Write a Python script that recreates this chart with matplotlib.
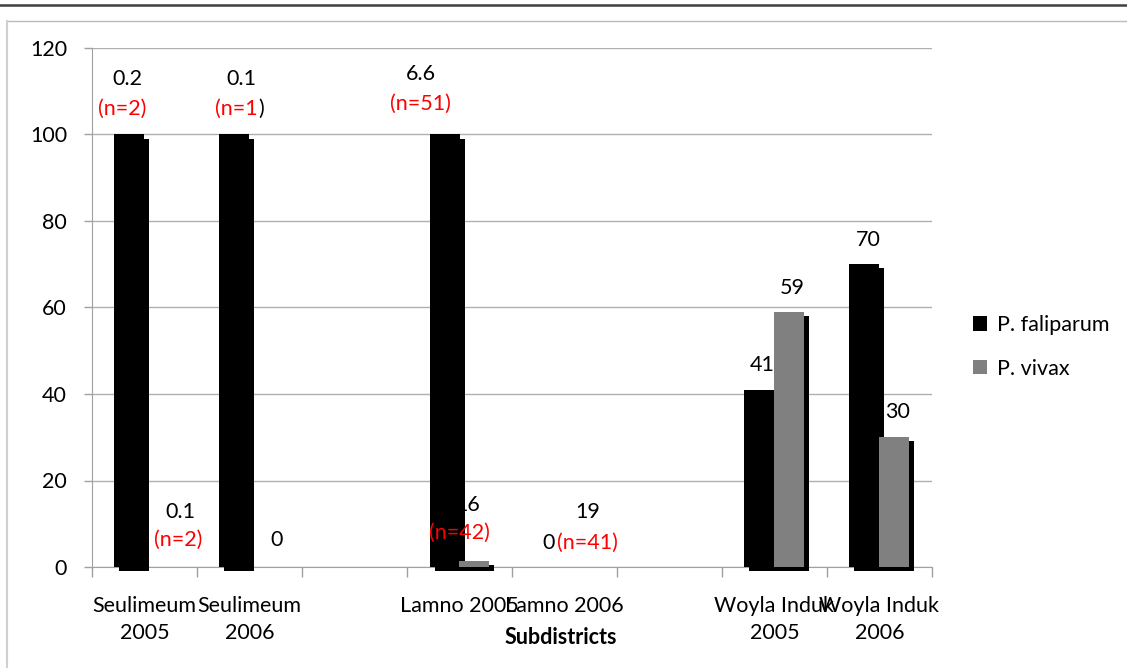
import matplotlib
matplotlib.use("Agg")
import matplotlib.pyplot as plt
import matplotlib.patheffects as pe
from matplotlib.lines import Line2D

plt.rcParams['font.family'] = ['Lato', 'DejaVu Sans']

categories = ["Seulimeum\n2005", "Seulimeum\n2006", "", "Lamno 2005",
              "Lamno 2006", "", "Woyla Induk\n2005", "Woyla Induk\n2006"]
falciparum = [100, 100, 0, 100, 0, 0, 41, 70]
vivax = [0, 0, 0, 1.5, 0, 0, 59, 30]
series_names = ["P. faliparum", "P. vivax"]
yticks = [0, 20, 40, 60, 80, 100, 120]

# annotation texts (black value / red n) with positions (x in category units, y in data units)
black_labels = ["0.2", "0.1", "6.6", "0.1", "0", "16", "19", "0", "41", "59", "70", "30"]
black_pos = [(-0.16, 112.8), (0.92, 112.8), (2.63, 114.0), (0.34, 12.7), (1.26, 6.2),
             (3.08, 14.3), (4.22, 12.7), (3.85, 5.5), (5.88, 46.7), (6.17, 64.5),
             (6.89, 75.6), (7.17, 35.8)]
red_labels = ["(n=2)", "(n=51)", "(n=2)", "(n=42)", "(n=41)"]
red_pos = [(-0.21, 105.9), (2.63, 107.0), (0.32, 6.2), (3.00, 7.8), (4.22, 5.5)]
split_red, split_black = "(n=1", ")"
split_pos = (1.08, 105.9)

FS = 15.5
W, H = 1127, 668
fig = plt.figure(figsize=(W / 100, H / 100), dpi=100)

# outer decoration lines
fig.add_artist(Line2D([0, 1], [1 - 5 / H, 1 - 5 / H], color="#404040", lw=1.8))
fig.add_artist(Line2D([7 / W, 1], [1 - 21 / H, 1 - 21 / H], color="#BBBBBB", lw=1.0))
fig.add_artist(Line2D([7 / W, 7 / W], [0, 1 - 21 / H], color="#D0D0D0", lw=1.5))

ax = fig.add_axes([92 / W, (H - 567) / H, (932 - 92) / W, (567 - 48) / H])

n = len(categories)
xs = list(range(n))
bw = 30 / 105
shadow = [pe.SimplePatchShadow(offset=(3.6, -2.9), shadow_rgbFace="black", alpha=1.0), pe.Normal()]

b1 = ax.bar([x - bw / 2 for x in xs], falciparum, width=bw, color="black",
            zorder=3, clip_on=False, path_effects=shadow, label=series_names[0])
b2 = ax.bar([x + bw / 2 for x in xs], vivax, width=bw, color="#808080",
            zorder=3, clip_on=False, path_effects=shadow, label=series_names[1])

ax.set_xlim(-0.5, n - 0.5)
ax.set_ylim(0, 120)
ax.set_yticks(yticks)
ax.grid(axis="y", color="#B0B0B0", lw=1.0, zorder=0)
ax.set_axisbelow(True)

ax.set_xticks([x - 0.5 for x in range(n + 1)])
ax.set_xticklabels([])
ax.set_xticks(xs, minor=True)
ax.set_xticklabels(categories, minor=True, fontsize=FS, linespacing=1.42)
ax.tick_params(axis="x", which="minor", length=0, pad=21)
ax.tick_params(axis="x", which="major", length=7, color="#A0A0A0", width=1)
ax.tick_params(axis="y", length=6, color="#A0A0A0", width=1, labelsize=FS, pad=12)
for s in ["top", "right"]:
    ax.spines[s].set_visible(False)
ax.spines["left"].set_color("#A0A0A0")
ax.spines["bottom"].set_color("#A0A0A0")

for t, (x, y) in zip(black_labels, black_pos):
    ax.text(x, y, t, ha="center", va="center", fontsize=FS, color="black", zorder=2)
for t, (x, y) in zip(red_labels, red_pos):
    ax.text(x, y, t, ha="center", va="center", fontsize=FS, color="red", zorder=4)
ax.text(split_pos[0], split_pos[1], split_red, ha="right", va="center", fontsize=FS, color="red", zorder=4)
ax.text(split_pos[0], split_pos[1], split_black, ha="left", va="center", fontsize=FS, color="black", zorder=4)

fig.text(561 / W, 1 - 638 / H, "Subdistricts", ha="center", va="center",
         fontsize=FS, fontweight="bold")

leg = ax.legend(handles=[b1, b2], loc="center left", bbox_to_anchor=(973 / W, 1 - 347 / H),
                bbox_transform=fig.transFigure, frameon=False, fontsize=FS,
                borderpad=0, borderaxespad=0,
                handlelength=0.65, handleheight=0.65, handletextpad=0.45, labelspacing=1.1)
for h in leg.legend_handles:
    h.set_path_effects([])

fig.savefig("out.png", dpi=100)
